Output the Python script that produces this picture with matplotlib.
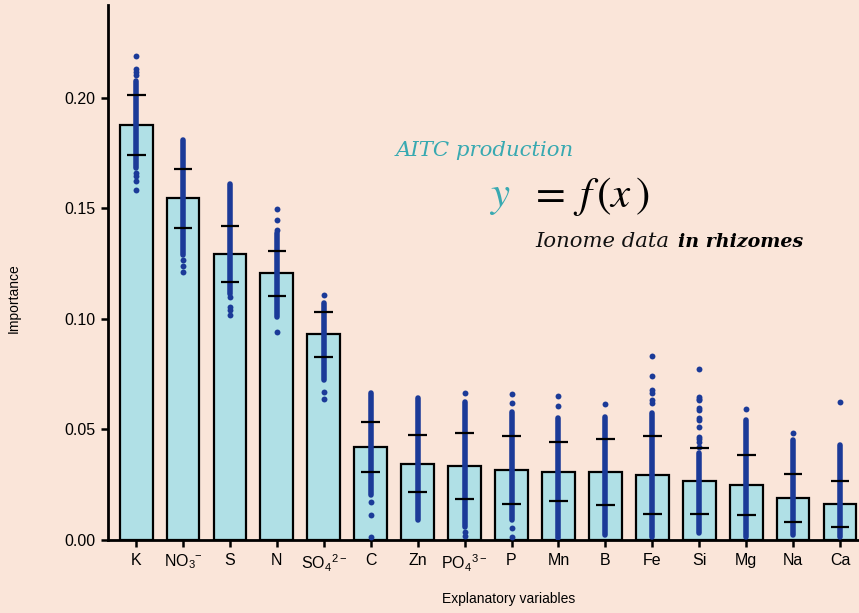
import numpy as np
import matplotlib
matplotlib.use('Agg')
import matplotlib.pyplot as plt

plt.rcParams['font.family'] = ['Liberation Sans', 'DejaVu Sans']
plt.rcParams['mathtext.fontset'] = 'custom'
plt.rcParams['mathtext.rm'] = 'Liberation Sans'
plt.rcParams['mathtext.it'] = 'Liberation Sans:italic'
plt.rcParams['mathtext.default'] = 'rm'

labels = ['K', r'NO$_3$$^{-}$', 'S', 'N', r'SO$_4$$^{2-}$', 'C', 'Zn', r'PO$_4$$^{3-}$',
          'P', 'Mn', 'B', 'Fe', 'Si', 'Mg', 'Na', 'Ca']
importance = [0.1875, 0.1548, 0.1294, 0.1208, 0.0932, 0.0419, 0.0344, 0.0333,
              0.0317, 0.0306, 0.0306, 0.0292, 0.0265, 0.0248, 0.0188, 0.0163]
upper = [0.2014, 0.1680, 0.1421, 0.1305, 0.1032, 0.0533, 0.0473, 0.0483,
         0.0471, 0.0442, 0.0456, 0.0472, 0.0415, 0.0385, 0.0299, 0.0266]
lower = [0.1742, 0.1410, 0.1165, 0.1104, 0.0829, 0.0307, 0.0216, 0.0186,
         0.0161, 0.0176, 0.0158, 0.0118, 0.0118, 0.0112, 0.0080, 0.0058]

# runs of permutations where the dots overlap into a solid column
dense_hi = [0.2074, 0.1807, 0.1611, 0.1388, 0.1071, 0.0664, 0.0641, 0.0626,
            0.0581, 0.0551, 0.0558, 0.0573, 0.0392, 0.0543, 0.0452, 0.0430]
dense_lo = [0.1682, 0.1290, 0.1113, 0.1010, 0.0724, 0.0204, 0.0090, 0.0060,
            0.0090, 0.0008, 0.0023, 0.0015, 0.0030, 0.0015, 0.0023, 0.0015]
# separate dots outside the solid column
outliers = [
    [0.2191, 0.2131, 0.2117, 0.2104, 0.1662, 0.1647, 0.1624, 0.1584],
    [0.1267, 0.1240, 0.1213],
    [0.1100, 0.1056, 0.1041, 0.1018],
    [0.1496, 0.1448, 0.1403, 0.0943],
    [0.1109, 0.0668, 0.0638],
    [0.0171, 0.0115, 0.0015],
    [],
    [0.0664, 0.0038, 0.0019],
    [0.0659, 0.0621, 0.0054, 0.0015],
    [0.0653, 0.0608],
    [0.0615],
    [0.0834, 0.0742, 0.0679, 0.0667, 0.0633, 0.0618],
    [0.0774, 0.0649, 0.0640, 0.0633, 0.0596, 0.0588, 0.0551, 0.0543, 0.0513, 0.0465, 0.0455, 0.0445, 0.0420],
    [0.0593],
    [0.0483],
    [0.0626],
]

bg = '#fae5d9'
dot = '#1b3a98'

fig = plt.figure(figsize=(8.59, 6.13), dpi=100, facecolor=bg)
ax = fig.add_axes([0.1257, 0.119, 0.874, 0.873], facecolor=bg)

x = np.arange(len(labels))
ax.bar(x, importance, width=0.7, color='#b0e0e6', edgecolor='black', linewidth=1.6, zorder=2)

ax.vlines(x, dense_lo, dense_hi, color=dot, linewidth=4.0, zorder=3, capstyle='round')
for i, pts in enumerate(outliers):
    ax.scatter([i] * len(pts), pts, s=18, color=dot, linewidths=0, zorder=3)

ax.hlines(upper, x - 0.2, x + 0.2, color='black', linewidth=1.6, zorder=4)
ax.hlines(lower, x - 0.2, x + 0.2, color='black', linewidth=1.6, zorder=4)

ax.set_xlim(-0.6, 15.4)
ax.set_ylim(0, 0.242)
ax.set_xticks(x)
ax.set_xticklabels(labels, fontsize=11.5)
ax.set_yticks([0, 0.05, 0.10, 0.15, 0.20])
ax.set_yticklabels(['0.00', '0.05', '0.10', '0.15', '0.20'], fontsize=11.5)
ax.tick_params(axis='both', length=5, width=1.8, color='black', pad=4)
for s in ['top', 'right']:
    ax.spines[s].set_visible(False)
for s in ['left', 'bottom']:
    ax.spines[s].set_linewidth(2)

ax.set_ylabel('Importance', fontsize=10)
ax.yaxis.set_label_coords(-0.116, 0.452)
ax.set_xlabel('Explanatory variables', fontsize=10)
ax.xaxis.set_label_coords(0.533, -0.097)

teal = '#38a9b1'
fig.text(396 / 859, 1 - 150 / 613, 'AITC production', color=teal, fontsize=15.3,
         family='DejaVu Serif', style='italic', va='center', ha='left')
fig.text(489 / 859, 1 - 197 / 613, r'$\mathit{y}$', color=teal, fontsize=31,
         math_fontfamily='stix', va='center', ha='left')
fig.text(529 / 859, 1 - 197 / 613, r'$=\;\mathit{f}\,(\mathit{x}\,)$', color='black', fontsize=31,
         math_fontfamily='stix', va='center', ha='left')
fig.text(535 / 859, 1 - 242 / 613, 'Ionome data', color='#111111', fontsize=15.2,
         family='DejaVu Serif', style='italic', va='center', ha='left')
fig.text(678 / 859, 1 - 242 / 613, 'in rhizomes', color='black', fontsize=13.7,
         family='DejaVu Serif', style='italic', weight='bold', va='center', ha='left')

fig.savefig('out.png', dpi=100, facecolor=bg)
